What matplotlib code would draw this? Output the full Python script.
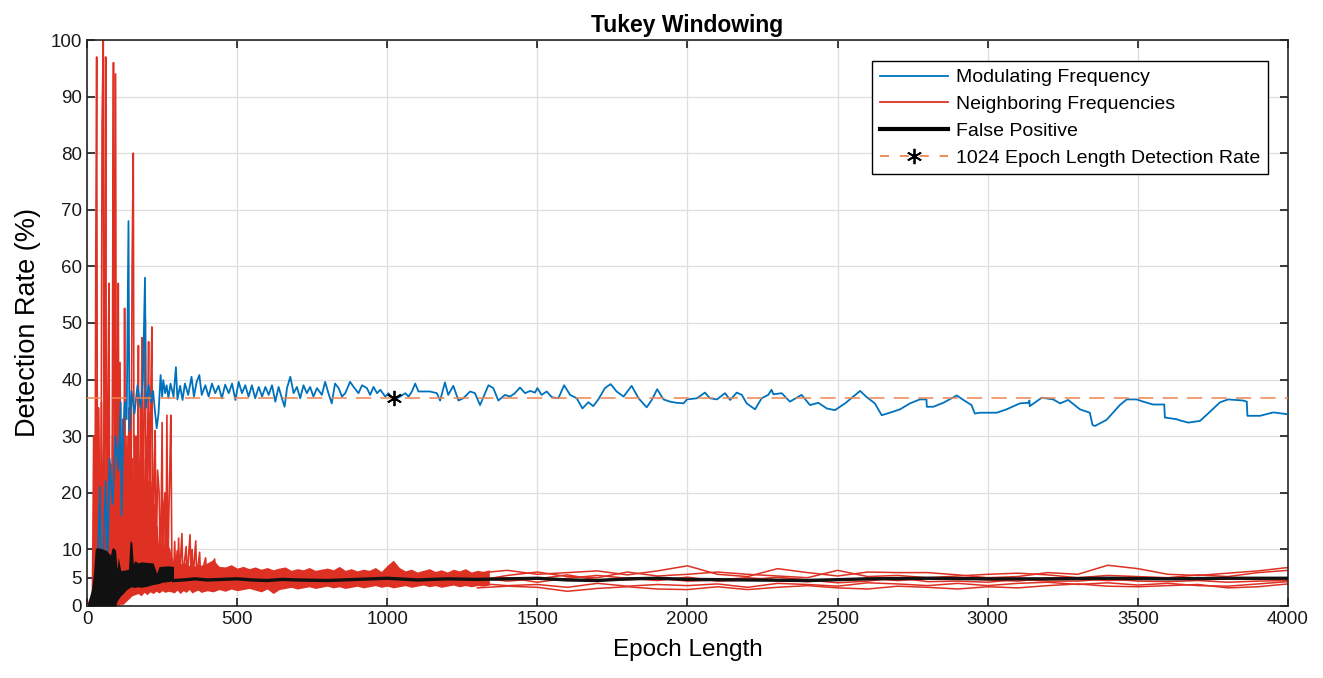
import matplotlib
matplotlib.use('Agg')
import matplotlib.pyplot as plt
from matplotlib.lines import Line2D

plt.rcParams['font.family'] = ['Liberation Sans', 'DejaVu Sans']

BLUE = '#0072BD'
RED = '#de3124'
ORANGE = '#ee8550'

# modulating frequency detection rate (epoch length, %)
blue_pts = [
    (0, 0), (15, 0), (25, 3), (30, 0), (38, 12), (43, 21), (47, 4), (55, 10), (62, 22), (68, 8),
    (75, 26), (85, 18), (95, 30), (105, 24), (112, 36), (115, 16), (120, 30), (126, 36), (132, 33),
    (138, 68), (141, 31), (148, 38), (158, 34), (168, 39), (178, 35), (186, 40), (193, 58), (196, 35),
    (205, 39), (213, 36), (220, 38), (226, 34.5), (232, 31.4), (238, 34), (245, 40.8), (250, 37),
    (254, 39.9), (260, 37.6), (265, 39), (271, 36.7), (278, 39.3), (288, 37), (296, 42.2), (301, 36.5),
    (310, 38.9), (318, 36.4), (326, 39.3), (337, 37.3), (348, 40.5), (356, 37), (365, 39.6), (374, 40.8),
    (382, 37.3), (394, 39), (405, 37), (416, 39.3), (427, 37.6), (438, 38.9), (449, 36.7), (460, 39.1),
    (472, 37.6), (483, 39.3), (494, 36.4), (505, 39.6), (516, 37.6), (527, 39), (538, 37), (549, 39),
    (560, 36.7), (572, 38.7), (583, 37), (594, 38.7), (605, 37.3), (616, 39), (627, 36.1), (638, 38.7),
    (649, 36.7), (658, 35.2), (666, 38.5), (677, 40.5), (688, 37.6), (699, 38.7), (710, 36.7), (721, 39),
    (732, 37.6), (743, 38.7), (754, 37), (766, 38.5), (782, 37.3), (793, 39.6), (804, 37.6), (815, 35.8),
    (826, 39.3), (838, 38.5), (849, 37), (860, 37.6), (876, 39.6), (888, 38.7), (904, 37.6), (916, 39),
    (932, 38.5), (943, 37.3), (954, 38.7), (966, 37.6), (977, 38.2), (993, 37), (1004, 37.6), (1021, 36.4),
    (1043, 37), (1060, 37.6), (1071, 37), (1082, 37.9), (1093, 39.3), (1104, 37.9), (1121, 37.9),
    (1142, 37.9), (1165, 37.6), (1176, 36.3), (1192, 39.5), (1203, 37.3), (1220, 38.9), (1237, 36.3),
    (1253, 36.7), (1276, 37.9), (1292, 37.6), (1309, 35.5), (1337, 39), (1353, 38.5), (1370, 36.3),
    (1392, 37.3), (1409, 37), (1425, 37.6), (1442, 38.6), (1459, 37.6), (1476, 38), (1492, 37.7),
    (1500, 38.5), (1514, 37.3), (1531, 37.9), (1548, 36.9), (1570, 36.7), (1589, 39), (1609, 37.3),
    (1631, 36.7), (1650, 34.9), (1670, 36), (1686, 35.3), (1703, 36.5), (1725, 38.5), (1744, 39.2),
    (1764, 37.9), (1787, 37), (1814, 38.9), (1837, 36.7), (1864, 35.1), (1881, 36.4), (1899, 38.3),
    (1920, 36.5), (1942, 36.1), (1964, 35.9), (1987, 35.8), (1998, 36.5), (2031, 36.7), (2058, 37.7),
    (2075, 36.7), (2098, 36.5), (2125, 37.6), (2142, 36.4), (2164, 37.7), (2181, 37.3), (2197, 35.8),
    (2225, 34.75), (2247, 36.7), (2269, 37.3), (2280, 38.2), (2286, 37.4), (2314, 37.6), (2341, 36.1),
    (2380, 37.3), (2408, 35.5), (2436, 35.9), (2464, 34.9), (2491, 34.6), (2508, 35.2), (2525, 35.8),
    (2552, 37), (2575, 38), (2597, 36.9), (2624, 35.8), (2647, 33.7), (2674, 34.15), (2708, 34.75),
    (2741, 35.8), (2774, 36.5), (2796, 36.5), (2797, 35.2), (2819, 35.2), (2852, 35.9), (2897, 37.2),
    (2919, 36.4), (2946, 35.5), (2957, 34), (2974, 34.15), (3030, 34.15), (3063, 34.75), (3107, 35.8),
    (3135, 35.9), (3139, 36.3), (3140, 35.3), (3180, 36.8), (3218, 36.5), (3241, 35.8), (3268, 36.4),
    (3307, 34.75), (3340, 34.15), (3349, 32), (3357, 31.8), (3396, 32.9), (3440, 35.5), (3463, 36.5),
    (3496, 36.5), (3518, 36.1), (3551, 35.6), (3588, 35.6), (3590, 33.3), (3629, 33), (3640, 32.8),
    (3668, 32.4), (3707, 32.7), (3740, 34.3), (3774, 36), (3801, 36.5), (3851, 36.3), (3863, 36.1),
    (3865, 33.6), (3907, 33.6), (3951, 34.2), (3996, 33.9),
]

# neighbouring frequencies: early spikes (short epochs)
red_spike_pts = [
    (0, 0), (18, 2), (22, 30), (26, 4), (29, 60), (32, 97), (35, 5), (38, 35), (42, 21), (46, 2),
    (50, 85), (54, 100), (57, 10), (60, 45), (62, 97), (65, 4), (68, 30), (70, 40), (73, 57), (76, 3),
    (80, 25), (83, 8), (86, 70), (88, 96), (91, 5), (95, 94), (98, 8), (101, 35), (104, 57), (107, 6),
    (110, 43), (113, 4), (117, 25), (120, 30), (123, 8), (125, 52.6), (128, 6), (131, 28), (134, 10),
    (137, 25), (140, 35), (143, 10), (147, 22), (150, 60), (154, 80), (157, 8), (160, 30), (163, 12),
    (166, 27), (168, 20), (171, 46), (174, 6), (177, 22), (180, 30), (183, 47.4), (186, 6), (190, 35),
    (194, 50.6), (197, 8), (200, 20), (202, 30), (205, 46.7), (208, 5), (211, 28), (213, 40), (216, 49.3),
    (219, 5), (222, 18), (224, 25), (227, 31), (230, 6), (235, 24), (240, 20), (245, 5), (250, 32.4),
    (253, 4), (257, 18), (260, 20), (263, 8), (266, 33.7), (269, 4), (272, 15), (276, 25), (279, 33.7),
    (283, 4), (288, 5), (292, 11.4), (295, 5), (300, 9.7), (302, 5), (305, 12), (308, 5), (316, 12.8),
    (319, 5), (330, 10.5), (333, 5), (343, 12.6), (346, 5), (350, 10), (353, 5), (362, 11.5), (365, 5),
    (375, 9.5), (378, 5), (395, 8.5), (398, 5), (425, 8.3), (428, 5),
]
# second neighbouring line in the short-epoch region (mid-height spikes)
red_spike2_pts = [
    (20, 0), (24, 18), (27, 2), (31, 40), (34, 6), (40, 28), (44, 3), (48, 36), (52, 8), (56, 30),
    (59, 5), (64, 26), (67, 6), (72, 34), (75, 4), (78, 22), (82, 6), (85, 30), (90, 10), (93, 38),
    (97, 5), (100, 24), (103, 8), (106, 30), (109, 6), (112, 20), (116, 5), (119, 33), (122, 7),
    (127, 24), (130, 6), (133, 30), (136, 8), (139, 20), (142, 5), (146, 34), (149, 7), (152, 26),
    (156, 6), (159, 22), (162, 8), (165, 30), (169, 6), (173, 24), (176, 7), (179, 36), (182, 6),
    (188, 26), (192, 8), (196, 30), (199, 6), (204, 22), (207, 7), (210, 34), (214, 8), (218, 22),
    (221, 6), (226, 18), (229, 5), (233, 14), (237, 5), (243, 16), (247, 5), (255, 14), (258, 5),
    (265, 12), (268, 5), (275, 10), (278, 5),
]

# dense red region under the spikes
red_early_x = [20, 30, 40, 50, 60, 70, 80, 90, 100, 110, 120, 130, 140, 150,
               160, 170, 180, 190, 200, 210, 220, 230, 240, 250, 260, 270, 280, 290]
red_early_hi = [3, 12, 15, 10, 14, 16, 11, 15, 13, 16, 10, 14, 12, 15,
                11, 13, 14, 10, 12, 14, 11, 13, 10, 12, 10, 11, 9, 7.5]
red_early_lo = [0, 0, 0, 0, 0, 0, 0, 0, 0, 0.3, 0.3, 0.8, 1.3, 1.8,
                2.0, 2.2, 1.8, 2.4, 2.0, 2.5, 2.2, 2.6, 2.3, 2.7, 2.4, 2.6, 2.5, 2.4]

# noisy band of the neighbouring frequencies (upper / lower edge)
red_band_x = [280, 290, 300, 310, 320, 330, 340, 350, 360, 370,
              380, 400, 420, 440, 460, 480, 500, 520, 540, 560,
              580, 600, 620, 640, 660, 680, 700, 720, 740, 760,
              780, 800, 820, 840, 860, 880, 900, 920, 940, 960,
              980, 1000, 1020, 1040, 1060, 1080, 1100, 1120, 1140, 1160,
              1180, 1200, 1220, 1240, 1260, 1280, 1300, 1320, 1340]
red_band_hi = [7.2, 7.8, 7.0, 7.6, 7.3, 7.9, 7.1, 7.5, 7.0, 7.4,
               7.2, 7.6, 8.2, 7.0, 6.9, 7.3, 6.7, 7.0, 6.6, 6.9,
               6.5, 6.8, 6.4, 6.7, 6.9, 6.3, 6.6, 6.4, 6.8, 6.3,
               6.5, 6.7, 6.4, 7.0, 6.3, 6.6, 6.2, 6.5, 6.3, 6.8,
               6.1, 7.2, 8.1, 6.8, 6.2, 6.5, 6.0, 6.3, 6.6, 6.1,
               6.4, 6.0, 6.5, 6.2, 6.6, 6.0, 6.3, 6.1, 6.4]
red_band_lo = [2.6, 2.3, 2.8, 2.2, 2.7, 2.4, 2.9, 2.3, 2.6, 2.8,
               2.4, 2.7, 2.5, 2.9, 2.6, 3.0, 2.7, 2.9, 3.1, 2.8,
               2.5, 3.0, 2.2, 2.9, 3.1, 3.3, 3.0, 3.2, 3.4, 3.1,
               3.3, 3.5, 3.2, 3.4, 3.1, 3.3, 3.5, 3.2, 3.4, 3.6,
               3.3, 3.5, 3.2, 3.4, 3.6, 3.3, 3.5, 3.7, 3.4, 3.6,
               3.3, 3.5, 3.7, 3.4, 3.6, 3.4, 3.6, 3.5, 3.7]

# individual neighbouring-frequency lines for long epochs
red_x = [1300, 1400, 1500, 1600, 1700, 1800, 1900, 2000, 2100, 2200, 2300, 2400, 2500, 2600,
         2700, 2800, 2900, 3000, 3100, 3200, 3300, 3400, 3500, 3600, 3700, 3800, 3900, 4000]
red_a = [5.8, 6.3, 5.6, 5.9, 6.2, 5.5, 6.2, 7.1, 5.6, 5.2, 6.6, 5.9, 5.3, 6.0,
         5.9, 5.9, 5.5, 5.0, 5.2, 5.9, 5.6, 7.2, 6.6, 5.6, 5.4, 5.8, 6.2, 6.8]
red_b = [4.5, 5.4, 6.0, 5.2, 5.0, 6.0, 5.3, 5.6, 6.0, 5.6, 5.3, 5.0, 6.3, 5.2,
         5.4, 5.0, 5.3, 5.6, 5.8, 5.5, 5.0, 5.4, 5.2, 5.0, 5.5, 5.2, 5.9, 6.3]
red_c = [5.0, 4.4, 4.8, 5.5, 4.6, 4.6, 4.9, 4.4, 4.6, 5.0, 4.6, 4.3, 4.6, 4.9,
         4.5, 4.8, 4.9, 4.6, 4.4, 4.9, 4.8, 4.5, 4.7, 4.9, 4.6, 4.8, 4.7, 5.0]
red_d = [4.0, 3.6, 3.8, 3.3, 4.0, 3.5, 3.8, 3.6, 3.9, 3.3, 4.0, 3.8, 3.5, 4.1,
         3.9, 3.6, 4.0, 3.6, 4.0, 4.2, 3.8, 4.1, 3.7, 4.0, 3.6, 3.5, 3.9, 4.3]
red_e = [3.2, 3.5, 3.3, 2.6, 3.1, 3.4, 3.0, 2.9, 3.4, 2.9, 3.3, 3.6, 3.2, 3.0,
         3.5, 3.3, 3.0, 3.4, 3.2, 3.6, 3.9, 3.5, 3.4, 3.6, 3.8, 3.2, 3.4, 3.9]
red_f = [4.8, 5.0, 4.2, 4.9, 5.4, 4.9, 4.5, 5.1, 4.4, 4.6, 5.1, 4.6, 4.1, 4.4,
         5.0, 4.3, 4.4, 4.2, 4.7, 4.4, 4.4, 4.8, 4.4, 4.3, 4.5, 4.2, 4.4, 4.5]

# false positive rate: fast-switching region for short epochs, then a line
black_fill_x = [0, 5, 15, 22, 27, 32, 45, 55, 65, 71, 78, 83, 88, 95, 100, 104, 108, 112,
                120, 130, 138, 143, 149, 154, 160, 170, 180, 200, 220, 232, 240, 250, 270, 288]
black_fill_hi = [0, 1, 3, 6, 10, 10.3, 10.2, 10.0, 9.8, 9.4, 9.0, 10.2, 10.3, 9.8, 6.5, 8.6, 7.5, 6.3,
                 6.3, 6.4, 6.5, 11.5, 11.3, 7.5, 8.0, 7.6, 7.8, 7.7, 7.6, 5.8, 7.0, 7.0, 7.1, 7.0]
black_fill_lo = [0, 0, 0, 0, 0, 0, 0, 0, 0, 0, 0, 0, 0, 0, 0.9, 1.2, 1.5, 1.8,
                 2.2, 2.8, 3.1, 3.3, 3.4, 3.3, 3.3, 3.4, 3.3, 3.5, 3.8, 3.9, 4.0, 4.2, 4.3, 4.5]
black_x = [288, 320, 360, 400, 450, 500, 550, 600, 650, 700, 800, 900, 1000, 1100, 1200, 1300,
           1400, 1500, 1600, 1700, 1800, 1900, 2000, 2200, 2400, 2600, 2800, 3000, 3200, 3400,
           3600, 3800, 4000]
black_y = [4.5, 4.6, 4.8, 4.6, 4.7, 4.8, 4.6, 4.5, 4.7, 4.6, 4.5, 4.7, 4.9, 4.6, 4.8, 4.7,
           4.8, 4.9, 4.6, 4.5, 4.8, 4.9, 4.7, 4.6, 4.5, 4.8, 4.9, 4.8, 4.8, 4.9, 4.8, 4.9, 4.9]

ref_epoch = 1024
ref_rate = 36.7
x_ticks = [0, 500, 1000, 1500, 2000, 2500, 3000, 3500, 4000]
y_ticks = [0, 5, 10, 20, 30, 40, 50, 60, 70, 80, 90, 100]

fig = plt.figure(figsize=(13.23, 6.78), dpi=100)
ax = fig.add_axes([0.0658, 0.1062, 0.9077, 0.8348])

# red first, blue on top, black above both
ax.fill_between(red_early_x, red_early_lo, red_early_hi, color=RED, lw=0, zorder=2)
ax.fill_between(red_band_x, red_band_lo, red_band_hi, color=RED, lw=0, zorder=2)
for pts in (red_spike_pts, red_spike2_pts):
    sx, sy = zip(*pts)
    ax.plot(sx, sy, color=RED, lw=1.2, zorder=2)
for ys in (red_a, red_b, red_c, red_d, red_e, red_f):
    ax.plot(red_x, ys, color=RED, lw=1.1, zorder=2)

bx, by = zip(*blue_pts)
ax.plot(bx, by, color=BLUE, lw=1.3, zorder=3)

ax.fill_between(black_fill_x, black_fill_lo, black_fill_hi, color='#111111', lw=0, zorder=4)
ax.plot(black_x, black_y, color='#111111', lw=2.4, zorder=4)

ax.plot([0, ref_epoch, 4000], [ref_rate] * 3, color=ORANGE, lw=1.1, dashes=(10, 6),
        zorder=3.5)
ax.plot([ref_epoch], [ref_rate], ls='none', marker=(6, 2, 0), ms=11, mec='black', mew=1.3,
        zorder=5)

ax.set_xlim(0, 4000)
ax.set_ylim(0, 100)
ax.set_xticks(x_ticks)
ax.set_yticks(y_ticks)
ax.grid(True, color='#dedede', lw=0.9)
ax.set_axisbelow(True)
ax.tick_params(direction='in', top=True, right=True, length=6, width=1.2,
               labelsize=13.5, colors='#1a1a1a')
for sp in ax.spines.values():
    sp.set_color('#262626')
    sp.set_linewidth(1.2)

ax.set_title('Tukey Windowing', fontsize=16.5, fontweight='bold', pad=6)
ax.set_xlabel('Epoch Length', fontsize=17.5, labelpad=8)
ax.set_ylabel('Detection Rate (%)', fontsize=19.5, labelpad=7)

handles = [
    Line2D([], [], color=BLUE, lw=1.3),
    Line2D([], [], color=RED, lw=1.3),
    Line2D([], [], color='black', lw=3),
    Line2D([], [], color=ORANGE, lw=1.3, dashes=(5, 6), marker=(6, 2, 0), ms=11,
           mec='black', mew=1.3),
]
labels = ['Modulating Frequency', 'Neighboring Frequencies', 'False Positive',
          '1024 Epoch Length Detection Rate']
leg = ax.legend(handles, labels, loc='upper right', bbox_to_anchor=(0.9834, 0.9629),
                borderaxespad=0, fontsize=14, handlelength=3.5, handletextpad=0.4,
                labelspacing=0.47, borderpad=0.4, fancybox=False, framealpha=1,
                edgecolor='black')
leg.get_frame().set_linewidth(1.0)
leg.set_zorder(10)

fig.savefig('out.png', dpi=100)
